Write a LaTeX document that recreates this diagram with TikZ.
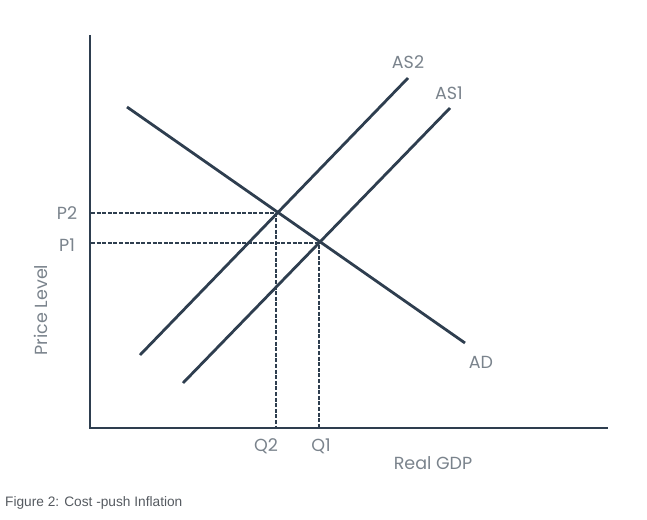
\documentclass[tikz,border=0pt]{standalone}
\usepackage{fontspec}
\setmainfont{Poppins}
\newfontfamily\capfont{Liberation Sans}
\usepackage{tikz}
\usetikzlibrary{positioning}

\definecolor{curvecol}{HTML}{2E3E4F}
\definecolor{labelcol}{HTML}{7A838C}
\definecolor{captioncol}{HTML}{555A60}

\tikzset{
  curve/.style={draw=curvecol, line width=2.8pt},
  guide/.style={draw=curvecol, line width=2pt, dash pattern=on 4pt off 1.6pt},
  lbl/.style={text=labelcol, font=\fontsize{17.5}{17.5}\selectfont, inner sep=0pt}
}

\begin{document}
\begin{tikzpicture}[x=1pt, y=-1pt]
  \useasboundingbox (0, 0) rectangle (647, 519);

  % Axes.
  \coordinate (origin) at (90, 428);
  \coordinate (ytop) at (90, 35);
  \coordinate (xend) at (608, 428);
  \draw [curve] (ytop) -- (origin) -- (xend);

  % Equilibrium points.
  \coordinate (e2) at (276, 213);
  \coordinate (e1) at (319, 243);
  \coordinate (p2) at (91, 213);
  \coordinate (p1) at (91, 243);
  \coordinate (q2) at (276, 427);
  \coordinate (q1) at (319, 427);

  % Dashed guides.
  \draw [guide] (p2) -- (e2) -- (q2);
  \draw [guide] (p1) -- (e1) -- (q1);

  % Draw AD, AS1, AS2.
  \coordinate (ad0) at (127, 107);
  \coordinate (ad1) at (465, 343);
  \coordinate (asb0) at (140, 355);
  \coordinate (asb1) at (408, 78);
  \coordinate (asa0) at (183, 383);
  \coordinate (asa1) at (450, 108);
  \draw [curve] (ad0) -- (ad1);
  \draw [curve] (asb0) -- (asb1);
  \draw [curve] (asa0) -- (asa1);

  % Labels.
  \node [lbl] (lp2) at (67, 213) {P2};
  \node [lbl] (lp1) at (67, 245) {P1};
  \node [lbl] (lq2) at (266, 446) {Q2};
  \node [lbl] (lq1) at (321, 446) {Q1};
  \node [lbl] (lgdp) at (433, 463) {Real GDP};
  \node [lbl, rotate=90] (lprice) at (41, 310) {Price Level};
  \node [lbl] (las2) at (408, 62) {AS2};
  \node [lbl] (las1) at (449, 93) {AS1};
  \node [lbl] (lad) at (481, 362) {AD};

  % Caption.
  \node [anchor=west, text=captioncol, inner sep=0pt,
         font=\capfont\fontsize{13.7}{13.7}\selectfont] (caption) at (5, 503)
        {Figure 2: Cost -push Inflation};
\end{tikzpicture}
\end{document}
